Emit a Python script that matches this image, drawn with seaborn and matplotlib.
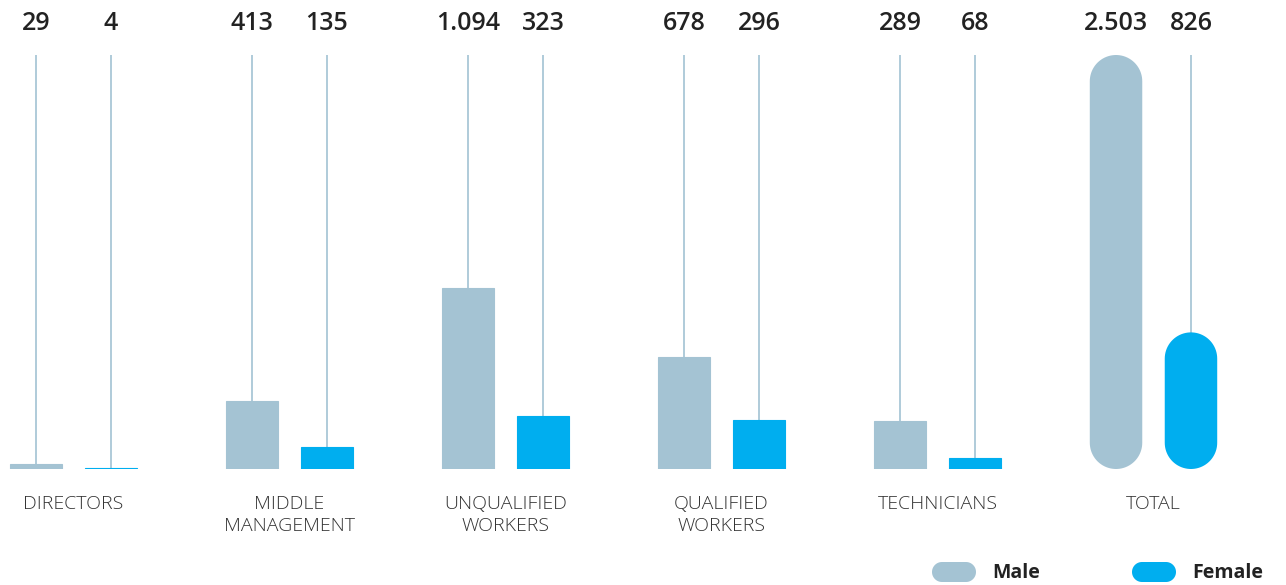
import matplotlib
matplotlib.use("Agg")
import numpy as np
import matplotlib.pyplot as plt
from matplotlib.patches import Polygon
import seaborn as sns
import pandas as pd

categories = ["DIRECTORS", "MIDDLE\nMANAGEMENT", "UNQUALIFIED\nWORKERS",
              "QUALIFIED\nWORKERS", "TECHNICIANS", "TOTAL"]
male = [29, 413, 1094, 678, 289, 2503]
female = [4, 135, 323, 296, 68, 826]
value_labels_male = ["29", "413", "1.094", "678", "289", "2.503"]
value_labels_female = ["4", "135", "323", "296", "68", "826"]
series = ["Male", "Female"]
colors = {"Male": "#A4C3D3", "Female": "#00AEEF"}
stem_color = "#AFCBD9"

df = pd.DataFrame({
    "category": categories * 2,
    "gender": [series[0]] * len(categories) + [series[1]] * len(categories),
    "count": male + female,
})

sns.set_theme(style="white")
plt.rcParams["font.family"] = ["Open Sans", "DejaVu Sans"]

W, H = 1286, 585
fig = plt.figure(figsize=(W / 100, H / 100), dpi=100)
base_px, top_px = 469, 55
ax = fig.add_axes([0, (H - base_px) / H, 1, (base_px - top_px) / H])

sns.barplot(data=df, x="category", y="count", hue="gender", order=categories,
            hue_order=series, palette=colors, width=0.694, gap=0.3,
            saturation=1, legend=False, ax=ax, zorder=3,
            edgecolor=None, linewidth=0)

group_px = 216
first_center = 73.5
ax.set_xlim(-first_center / group_px, (W - first_center) / group_px)
ax.set_ylim(0, max(male))
ax.axis("off")

fig.canvas.draw()
bars = list(ax.patches)
n = len(categories)


def pill(x0, y0, w, h, ux, uy, vertical=True, **kw):
    """Stadium shape; ux/uy are data units per pixel so the caps stay round."""
    wp, hp = w / ux, h / uy
    r = (wp if vertical else hp) / 2
    t = np.linspace(0, np.pi, 40)
    if vertical:
        cx = wp / 2
        top = np.column_stack([cx + r * np.cos(t), hp - r + r * np.sin(t)])
        bot = np.column_stack([cx - r * np.cos(t), r - r * np.sin(t)])
    else:
        cy = hp / 2
        top = np.column_stack([wp - r + r * np.sin(t), cy - r * np.cos(t)])
        bot = np.column_stack([r - r * np.sin(t), cy + r * np.cos(t)])
    pts = np.vstack([top, bot])
    pts[:, 0] = x0 + pts[:, 0] * ux
    pts[:, 1] = y0 + pts[:, 1] * uy
    return Polygon(pts, closed=True, **kw)


# stems from the top of the plot down to each bar
for p in bars:
    xc = p.get_x() + p.get_width() / 2
    ax.plot([xc, xc], [0, max(male)], color=stem_color, lw=1.4, zorder=1,
            solid_capstyle="butt")
    p.set_edgecolor(p.get_facecolor())
    p.set_linewidth(0.8)

# rounded pills for the totals
xpx = ax.transData.transform([(0, 0), (1, 0)])
ypx = ax.transData.transform([(0, 0), (0, 1)])
ux = 1 / (xpx[1][0] - xpx[0][0])
uy = 1 / (ypx[1][1] - ypx[0][1])
for idx in (n - 1, 2 * n - 1):
    p = bars[idx]
    ax.add_patch(pill(p.get_x(), 0, p.get_width(), p.get_height(), ux, uy,
                      facecolor=p.get_facecolor(), edgecolor="none", zorder=3))
    p.set_visible(False)

# value labels above the stems and category labels below
span = base_px - top_px
for i in range(n):
    pm, pf = bars[i], bars[n + i]
    for p, lab in ((pm, value_labels_male[i]), (pf, value_labels_female[i])):
        xc = p.get_x() + p.get_width() / 2
        ax.text(xc, 1 + 31 / span, lab, ha="center", va="center",
                transform=ax.get_xaxis_transform(), fontsize=18,
                fontweight="semibold", color="#222222", clip_on=False)
    ax.text(i, -(495 - base_px) / span, categories[i],
            ha="center", va="top", transform=ax.get_xaxis_transform(),
            fontsize=14, fontweight="light", color="#333333",
            linespacing=1.27, clip_on=False)

# legend with pill swatches
for name, px_x, tx in (("Male", 932, 992), ("Female", 1132, 1192)):
    sw = pill(px_x / W, (H - 582) / H, 44 / W, 20 / H, 1 / W, 1 / H,
              vertical=False, transform=fig.transFigure,
              facecolor=colors[name], edgecolor="none")
    fig.patches.append(sw)
    fig.text(tx / W, (H - 573) / H, name, ha="left", va="center",
             fontsize=14, fontweight="bold", color="#222222")

fig.savefig("out.png", dpi=100)
